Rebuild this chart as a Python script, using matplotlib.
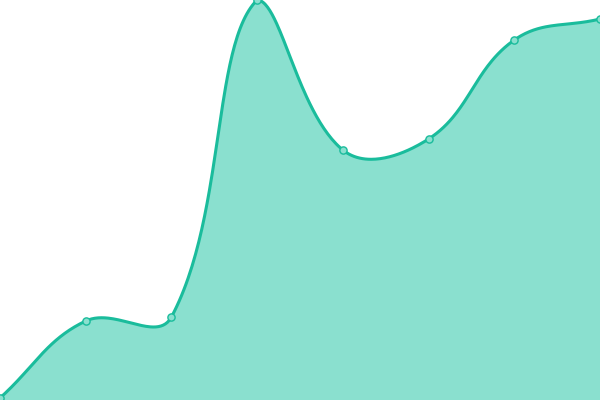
import numpy as np
import matplotlib
matplotlib.use("Agg")
from matplotlib import pyplot as plt

# data
xs = [0, 1, 2, 3, 4, 5, 6, 7]
vals = [0.5, 19.75, 20.75, 100, 62.5, 65.25, 90, 95.25]

line_color = '#1abc9c'
fill_color = '#8ae0cf'
tension = 0.4

fig = plt.figure(figsize=(6, 4), dpi=100)
ax = fig.add_axes([0, 0, 1, 1])
ax.set_xlim(0, 7)
ax.set_ylim(0, 100)
ax.axis('off')

# spline with tension, control points capped to the plot area (pixel space)
pts = ax.transData.transform(np.column_stack([xs, vals]))
lo = ax.transData.transform((0, 0))
hi = ax.transData.transform((7, 100))
n = len(pts)
cp_in, cp_out = [], []
for i in range(n):
    cur = pts[i]
    prev = pts[i - 1] if i > 0 else cur
    nxt = pts[i + 1] if i < n - 1 else cur
    d01 = np.hypot(*(cur - prev))
    d12 = np.hypot(*(nxt - cur))
    s01 = d01 / (d01 + d12)
    s12 = d12 / (d01 + d12)
    cp_in.append(np.clip(cur - tension * s01 * (nxt - prev), lo, hi))
    cp_out.append(np.clip(cur + tension * s12 * (nxt - prev), lo, hi))

t = np.linspace(0, 1, 60)[:, None]
curve = []
for i in range(n - 1):
    p0, p1, p2, p3 = pts[i], cp_out[i], cp_in[i + 1], pts[i + 1]
    seg = ((1 - t) ** 3) * p0 + 3 * ((1 - t) ** 2) * t * p1 + 3 * (1 - t) * t ** 2 * p2 + t ** 3 * p3
    curve.append(seg if i == 0 else seg[1:])
curve = ax.transData.inverted().transform(np.vstack(curve))

ax.fill_between(curve[:, 0], curve[:, 1], 0, color=fill_color, lw=0)
ax.plot(curve[:, 0], curve[:, 1], color=line_color, lw=2.2, solid_capstyle='round')
ax.plot(xs, vals, 'o', ms=5.2, mfc=fill_color, mec=line_color, mew=1)

fig.savefig('out.png', dpi=100)
